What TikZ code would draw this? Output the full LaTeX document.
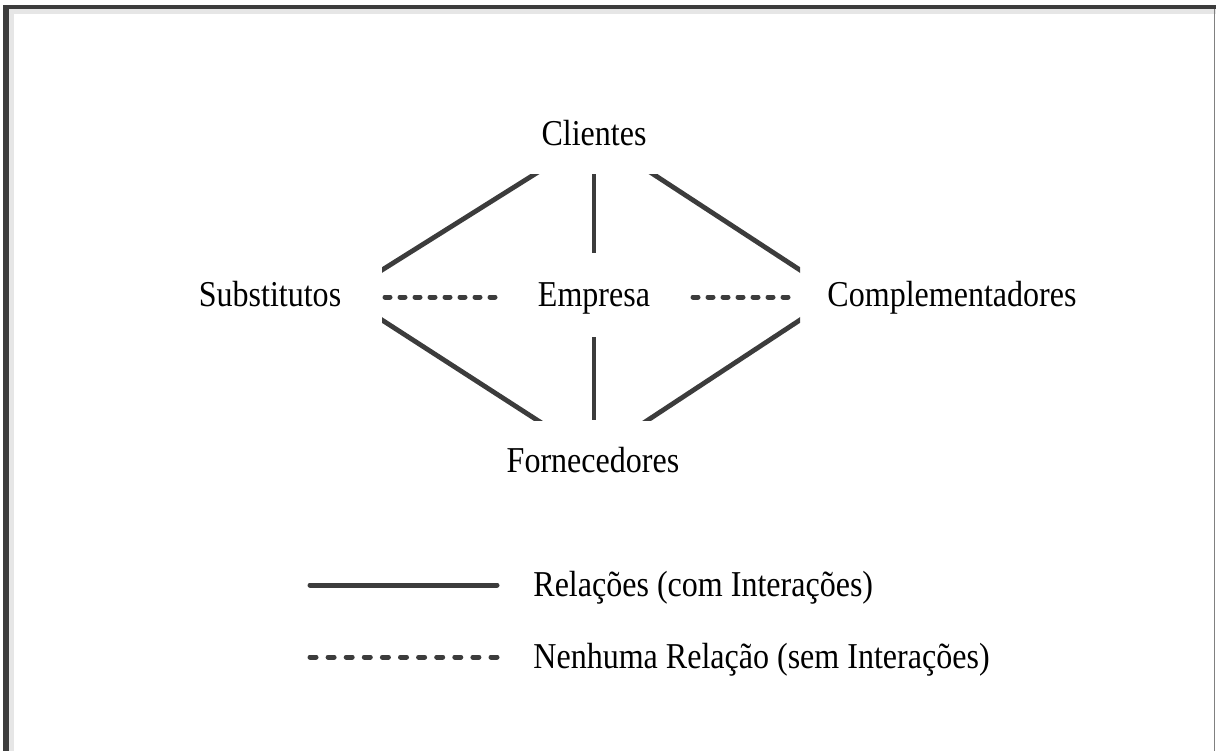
\documentclass[tikz,border=0pt]{standalone}
\usepackage{fontspec}
\setmainfont{Liberation Serif}[FakeStretch=0.88]
\usepackage{tikz}
\definecolor{linegray}{HTML}{3C3C3C}
\definecolor{bandgray}{HTML}{E6E6E6}
\tikzset{
lbl/.style={
  font=\fontsize{18.2pt}{21pt}\selectfont,
  inner sep=0pt,
  anchor=base
},
rel/.style={draw=linegray, line width=2.4pt, line cap=butt},
norel/.style={draw=linegray, line width=2.5pt, line cap=round, dash pattern=on 2.5pt off 5pt},
legnorel/.style={norel, dash pattern=on 3pt off 6.05pt},
legrel/.style={draw=linegray, line width=2.5pt, line cap=round}
}

\begin{document}
\begin{tikzpicture}[x=0.5pt,y=-0.5pt]
\useasboundingbox (0,0) rectangle (1216,751);
% the frame
\fill[bandgray] (9,9) rectangle (1216,14);
\fill[bandgray] (9,9) rectangle (14,751);
\fill[linegray] (3,5) rectangle (1216,9);
\fill[linegray] (3,5) rectangle (9,751);
\draw[gray, line width=0.6pt] (1214.5,9) -- (1214.5,751);
% the players
\node[lbl] (cli) at (594,145) {Clientes};
\node[lbl] (emp) at (594,306) {Empresa};
\node[lbl] (sub) at (270,306) {Substitutos};
\node[lbl] (com) at (952,306) {Complementadores};
\node[lbl] (for) at (593,472) {Fornecedores};
% the relations
\begin{scope}
\clip (382,174) rectangle (800,420);
\draw[rel, shorten <=-3pt, shorten >=-3pt]
    ([shift={(-59,29)}]cli.base) -- ([shift={(112,-36)}]sub.base);
\draw[rel, shorten <=-3pt, shorten >=-3pt]
    ([shift={(59,29)}]cli.base) -- ([shift={(-152,-36)}]com.base);
\draw[rel, shorten <=-3pt, shorten >=-3pt]
    ([shift={(112,14)}]sub.base) -- ([shift={(-56,-52)}]for.base);
\draw[rel, shorten <=-3pt, shorten >=-3pt]
    ([shift={(-152,14)}]com.base) -- ([shift={(55,-52)}]for.base);
\end{scope}
\draw[rel] ([shift={(0,29)}]cli.base) -- ([shift={(0,-53)}]emp.base);
\draw[rel] ([shift={(0,31)}]emp.base) -- ([shift={(1,-52)}]for.base);
% no relations
\draw[norel] ([shift={(115,-9)}]sub.base) -- ([shift={(-99,-9)}]emp.base);
\draw[norel] ([shift={(99,-9)}]emp.base) -- ([shift={(-155,-9)}]com.base);
% the legend
\node[lbl, anchor=base west] (leg-rel) at (533,596) {Relações (com Interações)};
\node[lbl, anchor=base west] (leg-norel) at (533,668) {Nenhuma Relação (sem Interações)};
\coordinate (leg-rel-a) at (310,585);
\coordinate (leg-norel-a) at (310,657);
\draw[legrel] (leg-rel-a) -- ([shift={(-36,-11)}]leg-rel.base west);
\draw[legnorel] (leg-norel-a) -- ([shift={(-36,-11)}]leg-norel.base west);
\end{tikzpicture}
\end{document}
